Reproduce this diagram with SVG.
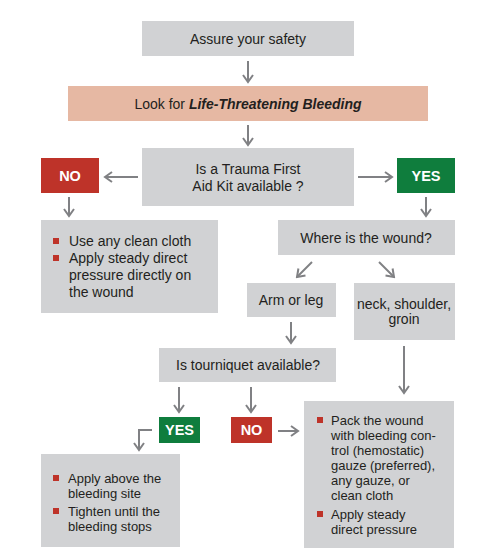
<svg xmlns="http://www.w3.org/2000/svg" width="485" height="555" viewBox="0 0 485 555">
<style>
.box{fill:#d1d2d4}
.pink{fill:#e6b8a3}
.red{fill:#be3329}
.green{fill:#0f7d3d}
text{font-family:"Liberation Sans",Arial,sans-serif;font-size:14px;fill:#231f20}
.sm{font-size:13px}
.c{text-anchor:middle}
.lbl{font-weight:bold;fill:#ffffff;font-size:14.5px;text-anchor:middle}
.bul{fill:#be3329}
.arr{stroke:#808184;stroke-width:2;fill:none}
</style>
<defs>
<marker id="ah" viewBox="0 0 12 12" refX="10" refY="6" markerWidth="12" markerHeight="12" markerUnits="userSpaceOnUse" orient="auto">
<path d="M3,1 L10,6 L3,11" fill="none" stroke="#808184" stroke-width="2"/>
</marker>
</defs>
<rect width="485" height="555" fill="#ffffff"/>
<g id="n1"><rect class="box" x="142" y="21" width="212" height="35"/><text class="c" x="248" y="44">Assure your safety</text></g>
<g id="n2"><rect class="pink" x="68" y="86" width="360" height="35"/><text class="c" x="248" y="109">Look for <tspan font-weight="bold" font-style="italic">Life-Threatening Bleeding</tspan></text></g>
<g id="n3"><rect class="box" x="142" y="148" width="212" height="58"/><text class="c" x="248" y="174">Is a Trauma First</text><text class="c" x="248" y="191">Aid Kit available ?</text></g>
<g id="no1"><rect class="red" x="41" y="158" width="58" height="35"/><text class="lbl" x="70" y="181">NO</text></g>
<g id="yes1"><rect class="green" x="397" y="158" width="58" height="35"/><text class="lbl" x="426" y="181">YES</text></g>
<g id="n4"><rect class="box" x="41" y="220" width="177" height="93"/>
<rect class="bul" x="53" y="238" width="6" height="6"/><text x="69" y="246">Use any clean cloth</text>
<rect class="bul" x="53" y="255" width="6" height="6"/><text x="69" y="263">Apply steady direct</text><text x="69" y="280">pressure directly on</text><text x="69" y="297">the wound</text></g>
<g id="n5"><rect class="box" x="278" y="220" width="177" height="35"/><text class="c" x="366" y="243">Where is the wound?</text></g>
<g id="n6"><rect class="box" x="247" y="283" width="89" height="34"/><text class="c" x="291" y="305">Arm or leg</text></g>
<g id="n7"><rect class="box" x="354" y="283" width="101" height="57"/><text class="c" x="404" y="309">neck, shoulder,</text><text class="c" x="404" y="324">groin</text></g>
<g id="n8"><rect class="box" x="159" y="348" width="177" height="34"/><text class="c" x="248" y="370">Is tourniquet available?</text></g>
<g id="yes2"><rect class="green" x="159" y="417" width="41" height="26"/><text class="lbl" x="179.5" y="435">YES</text></g>
<g id="no2"><rect class="red" x="231" y="417" width="41" height="26"/><text class="lbl" x="251.5" y="435">NO</text></g>
<g id="n9"><rect class="box" x="41" y="454" width="139" height="93"/>
<rect class="bul" x="53" y="475" width="6" height="6"/><text class="sm" x="68" y="483">Apply above the</text><text class="sm" x="68" y="498">bleeding site</text>
<rect class="bul" x="53" y="508" width="6" height="6"/><text class="sm" x="68" y="516">Tighten until the</text><text class="sm" x="68" y="531">bleeding stops</text></g>
<g id="n10"><rect class="box" x="304" y="401" width="150" height="147"/>
<rect class="bul" x="317" y="417" width="6" height="6"/><text class="sm" x="331" y="425">Pack the wound</text><text class="sm" x="331" y="440">with bleeding con-</text><text class="sm" x="331" y="455">trol (hemostatic)</text><text class="sm" x="331" y="470">gauze (preferred),</text><text class="sm" x="331" y="485">any gauze, or</text><text class="sm" x="331" y="500">clean cloth</text>
<rect class="bul" x="317" y="511" width="6" height="6"/><text class="sm" x="331" y="519">Apply steady</text><text class="sm" x="331" y="534">direct pressure</text></g>
<g id="connectors">
<line class="arr" x1="248" y1="61" x2="248" y2="82" marker-end="url(#ah)"/>
<line class="arr" x1="248" y1="125" x2="248" y2="145" marker-end="url(#ah)"/>
<line class="arr" x1="138" y1="177" x2="105" y2="177" marker-end="url(#ah)"/>
<line class="arr" x1="358" y1="177" x2="392" y2="177" marker-end="url(#ah)"/>
<line class="arr" x1="69" y1="197" x2="69" y2="216" marker-end="url(#ah)"/>
<line class="arr" x1="426" y1="197" x2="426" y2="216" marker-end="url(#ah)"/>
<line class="arr" x1="312" y1="262" x2="297" y2="277" marker-end="url(#ah)"/>
<line class="arr" x1="379" y1="262" x2="394" y2="277" marker-end="url(#ah)"/>
<line class="arr" x1="291" y1="322" x2="291" y2="343" marker-end="url(#ah)"/>
<line class="arr" x1="404" y1="346" x2="404" y2="393" marker-end="url(#ah)"/>
<line class="arr" x1="179" y1="387" x2="179" y2="412" marker-end="url(#ah)"/>
<line class="arr" x1="251" y1="387" x2="251" y2="412" marker-end="url(#ah)"/>
<polyline class="arr" points="152,430 139,430 139,450" marker-end="url(#ah)"/>
<line class="arr" x1="278" y1="431" x2="298" y2="431" marker-end="url(#ah)"/>
</g>
</svg>
